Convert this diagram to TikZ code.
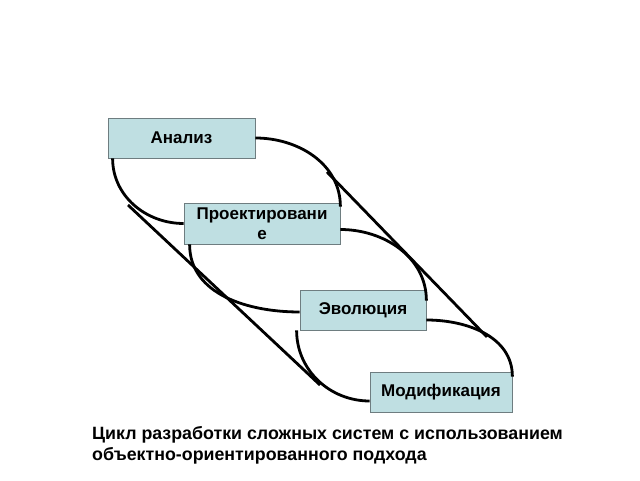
\documentclass[tikz,border=0pt]{standalone}
\usepackage{fontspec}
\setmainfont{Liberation Sans}
\usetikzlibrary{positioning}
\definecolor{boxfill}{RGB}{191,223,226}
\definecolor{boxline}{RGB}{110,125,128}

\begin{document}
\begin{tikzpicture}[x=1pt,y=1pt,
  box/.style={draw=boxline,fill=boxfill,line width=0.8pt,minimum height=40pt,
    align=center,inner sep=2pt,font=\fontsize{17}{19.5}\selectfont\bfseries},
  link/.style={line width=2.8pt}]
 \useasboundingbox (0,0) rectangle (640,480);
 % the four phases
 \node[box,minimum width=147pt] (an) at (181.5,342) {Анализ};
 \node[box,minimum width=156pt,minimum height=41pt] (pr) at (262,256.5) {Проектировани\\е};
 \node[box,minimum width=126pt] (ev) at (363,170) {Эволюция};
 \node[box,minimum width=142pt] (mo) at (441,88) {Модификация};
 % arcs between neighbours
 \draw[link] (an.east) to[out=0,in=90] ([yshift=-4pt]pr.north east);
 \draw[link] ([xshift=5pt]an.south west) to[out=-90,in=180] (pr.west);
 \draw[link] ([yshift=-6pt]pr.east) to[out=0,in=90] ([yshift=-11pt]ev.north east);
 \draw[link] ([xshift=6pt]pr.south west) to[out=-90,in=180] ([yshift=-2pt]ev.west);
 \draw[link] ([yshift=-10pt]ev.east) to[out=0,in=90] ([yshift=-5pt]mo.north east);
 \draw[link] ([xshift=-3pt]ev.south west) to[out=-90,in=180] ([yshift=-9pt]mo.west);
 % long diagonals
 \coordinate (l1) at (128,275);
 \coordinate (l2) at (320,95);
 \coordinate (r1) at (327,308);
 \coordinate (r2) at (487,143);
 \draw[link] (l1) -- (l2);
 \draw[link] (r1) -- (r2);
 % caption
 \node[anchor=north west,align=left,inner sep=0pt,
   font=\fontsize{17.8}{21}\selectfont\bfseries] (cap) at (92,54)
   {Цикл разработки сложных систем с использованием\\объектно-ориентированного подхода};
\end{tikzpicture}
\end{document}
